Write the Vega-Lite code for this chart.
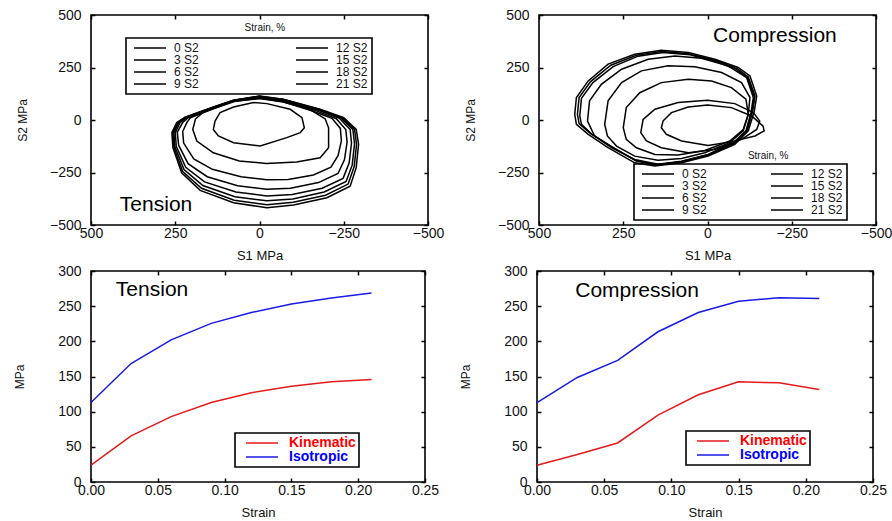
{
  "$schema": "https://vega.github.io/schema/vega-lite/v6.json",
  "padding": {"left": 12, "top": 7, "right": 5, "bottom": 5},
  "config": {
    "font": "Liberation Sans",
    "view": {"stroke": "black", "strokeWidth": 1.6},
    "axis": {"domain": false, "grid": false, "ticks": true, "tickSize": -4, "tickColor": "black", "tickWidth": 1.5, "labelFontSize": 14, "labelColor": "#111", "labelFlush": false, "labelOverlap": false, "titleFontSize": 13, "titleFontWeight": "normal", "titleColor": "#111"},
    "axisX": {"labelPadding": 5, "titlePadding": 9},
    "axisY": {"labelPadding": 14, "titlePadding": 22, "titleFontSize": 12},
    "legend": {"labelLimit": 300}
  },
  "datasets": {
    "tension": [
      {"s":"0 S2","i":0,"x":132,"y":-5},{"s":"0 S2","i":1,"x":117,"y":35},{"s":"0 S2","i":2,"x":77,"y":62},{"s":"0 S2","i":3,"x":18,"y":83},{"s":"0 S2","i":4,"x":-22,"y":78},{"s":"0 S2","i":5,"x":-91,"y":51},{"s":"0 S2","i":6,"x":-126,"y":11},{"s":"0 S2","i":7,"x":-133,"y":-37},{"s":"0 S2","i":8,"x":-121,"y":-60},{"s":"0 S2","i":9,"x":-81,"y":-84},{"s":"0 S2","i":10,"x":-2,"y":-124},{"s":"0 S2","i":11,"x":77,"y":-108},{"s":"0 S2","i":12,"x":122,"y":-76},{"s":"0 S2","i":13,"x":137,"y":-45},
      {"s":"3 S2","i":0,"x":190,"y":5},{"s":"3 S2","i":1,"x":165,"y":40},{"s":"3 S2","i":2,"x":130,"y":62},{"s":"3 S2","i":3,"x":75,"y":90},{"s":"3 S2","i":4,"x":0,"y":102},{"s":"3 S2","i":5,"x":-71,"y":86},{"s":"3 S2","i":6,"x":-150,"y":50},{"s":"3 S2","i":7,"x":-195,"y":5},{"s":"3 S2","i":8,"x":-205,"y":-37},{"s":"3 S2","i":9,"x":-205,"y":-132},{"s":"3 S2","i":10,"x":-180,"y":-180},{"s":"3 S2","i":11,"x":-110,"y":-200},{"s":"3 S2","i":12,"x":-20,"y":-207},{"s":"3 S2","i":13,"x":60,"y":-195},{"s":"3 S2","i":14,"x":137,"y":-156},{"s":"3 S2","i":15,"x":186,"y":-100},{"s":"3 S2","i":16,"x":198,"y":-45},
      {"s":"6 S2","i":0,"x":215,"y":-10},{"s":"6 S2","i":1,"x":205,"y":10},{"s":"6 S2","i":2,"x":135,"y":54},{"s":"6 S2","i":3,"x":75,"y":88},{"s":"6 S2","i":4,"x":0,"y":104},{"s":"6 S2","i":5,"x":-68,"y":88},{"s":"6 S2","i":6,"x":-155,"y":44},{"s":"6 S2","i":7,"x":-215,"y":8},{"s":"6 S2","i":8,"x":-240,"y":-40},{"s":"6 S2","i":9,"x":-243,"y":-100},{"s":"6 S2","i":10,"x":-233,"y":-170},{"s":"6 S2","i":11,"x":-212,"y":-225},{"s":"6 S2","i":12,"x":-160,"y":-262},{"s":"6 S2","i":13,"x":-85,"y":-283},{"s":"6 S2","i":14,"x":-22,"y":-285},{"s":"6 S2","i":15,"x":55,"y":-270},{"s":"6 S2","i":16,"x":140,"y":-235},{"s":"6 S2","i":17,"x":195,"y":-185},{"s":"6 S2","i":18,"x":225,"y":-110},{"s":"6 S2","i":19,"x":228,"y":-55},
      {"s":"9 S2","i":0,"x":228,"y":-12},{"s":"9 S2","i":1,"x":212,"y":10},{"s":"9 S2","i":2,"x":135,"y":56},{"s":"9 S2","i":3,"x":76,"y":90},{"s":"9 S2","i":4,"x":0,"y":107},{"s":"9 S2","i":5,"x":-69,"y":92},{"s":"9 S2","i":6,"x":-165,"y":46},{"s":"9 S2","i":7,"x":-228,"y":6},{"s":"9 S2","i":8,"x":-256,"y":-45},{"s":"9 S2","i":9,"x":-260,"y":-105},{"s":"9 S2","i":10,"x":-252,"y":-190},{"s":"9 S2","i":11,"x":-233,"y":-255},{"s":"9 S2","i":12,"x":-175,"y":-298},{"s":"9 S2","i":13,"x":-92,"y":-325},{"s":"9 S2","i":14,"x":-22,"y":-330},{"s":"9 S2","i":15,"x":65,"y":-313},{"s":"9 S2","i":16,"x":155,"y":-270},{"s":"9 S2","i":17,"x":212,"y":-208},{"s":"9 S2","i":18,"x":240,"y":-120},{"s":"9 S2","i":19,"x":244,"y":-58},
      {"s":"12 S2","i":0,"x":236,"y":-13},{"s":"12 S2","i":1,"x":215,"y":12},{"s":"12 S2","i":2,"x":136,"y":58},{"s":"12 S2","i":3,"x":77,"y":92},{"s":"12 S2","i":4,"x":0,"y":110},{"s":"12 S2","i":5,"x":-70,"y":95},{"s":"12 S2","i":6,"x":-172,"y":48},{"s":"12 S2","i":7,"x":-237,"y":8},{"s":"12 S2","i":8,"x":-269,"y":-45},{"s":"12 S2","i":9,"x":-273,"y":-110},{"s":"12 S2","i":10,"x":-266,"y":-205},{"s":"12 S2","i":11,"x":-248,"y":-278},{"s":"12 S2","i":12,"x":-186,"y":-325},{"s":"12 S2","i":13,"x":-97,"y":-355},{"s":"12 S2","i":14,"x":-22,"y":-362},{"s":"12 S2","i":15,"x":70,"y":-343},{"s":"12 S2","i":16,"x":163,"y":-295},{"s":"12 S2","i":17,"x":219,"y":-225},{"s":"12 S2","i":18,"x":247,"y":-125},{"s":"12 S2","i":19,"x":250,"y":-60},
      {"s":"15 S2","i":0,"x":240,"y":-13},{"s":"15 S2","i":1,"x":217,"y":13},{"s":"15 S2","i":2,"x":137,"y":60},{"s":"15 S2","i":3,"x":77,"y":93},{"s":"15 S2","i":4,"x":0,"y":112},{"s":"15 S2","i":5,"x":-71,"y":97},{"s":"15 S2","i":6,"x":-176,"y":49},{"s":"15 S2","i":7,"x":-242,"y":9},{"s":"15 S2","i":8,"x":-277,"y":-45},{"s":"15 S2","i":9,"x":-282,"y":-113},{"s":"15 S2","i":10,"x":-275,"y":-215},{"s":"15 S2","i":11,"x":-257,"y":-293},{"s":"15 S2","i":12,"x":-192,"y":-343},{"s":"15 S2","i":13,"x":-99,"y":-376},{"s":"15 S2","i":14,"x":-22,"y":-385},{"s":"15 S2","i":15,"x":73,"y":-365},{"s":"15 S2","i":16,"x":168,"y":-312},{"s":"15 S2","i":17,"x":224,"y":-236},{"s":"15 S2","i":18,"x":251,"y":-128},{"s":"15 S2","i":19,"x":254,"y":-60},
      {"s":"18 S2","i":0,"x":243,"y":-13},{"s":"18 S2","i":1,"x":219,"y":14},{"s":"18 S2","i":2,"x":137,"y":61},{"s":"18 S2","i":3,"x":77,"y":94},{"s":"18 S2","i":4,"x":0,"y":113},{"s":"18 S2","i":5,"x":-71,"y":98},{"s":"18 S2","i":6,"x":-178,"y":50},{"s":"18 S2","i":7,"x":-246,"y":10},{"s":"18 S2","i":8,"x":-282,"y":-45},{"s":"18 S2","i":9,"x":-288,"y":-115},{"s":"18 S2","i":10,"x":-281,"y":-222},{"s":"18 S2","i":11,"x":-263,"y":-305},{"s":"18 S2","i":12,"x":-196,"y":-358},{"s":"18 S2","i":13,"x":-100,"y":-392},{"s":"18 S2","i":14,"x":-22,"y":-403},{"s":"18 S2","i":15,"x":75,"y":-382},{"s":"18 S2","i":16,"x":172,"y":-325},{"s":"18 S2","i":17,"x":228,"y":-245},{"s":"18 S2","i":18,"x":254,"y":-130},{"s":"18 S2","i":19,"x":257,"y":-60},
      {"s":"21 S2","i":0,"x":246,"y":-13},{"s":"21 S2","i":1,"x":221,"y":14},{"s":"21 S2","i":2,"x":137,"y":62},{"s":"21 S2","i":3,"x":77,"y":94},{"s":"21 S2","i":4,"x":0,"y":114},{"s":"21 S2","i":5,"x":-71,"y":99},{"s":"21 S2","i":6,"x":-180,"y":51},{"s":"21 S2","i":7,"x":-250,"y":11},{"s":"21 S2","i":8,"x":-287,"y":-45},{"s":"21 S2","i":9,"x":-294,"y":-116},{"s":"21 S2","i":10,"x":-287,"y":-227},{"s":"21 S2","i":11,"x":-269,"y":-315},{"s":"21 S2","i":12,"x":-200,"y":-370},{"s":"21 S2","i":13,"x":-101,"y":-405},{"s":"21 S2","i":14,"x":-22,"y":-418},{"s":"21 S2","i":15,"x":77,"y":-394},{"s":"21 S2","i":16,"x":176,"y":-335},{"s":"21 S2","i":17,"x":231,"y":-251},{"s":"21 S2","i":18,"x":257,"y":-132},{"s":"21 S2","i":19,"x":260,"y":-60}
    ],
    "compression": [
      {"s":"0 S2","i":0,"x":132,"y":-5},{"s":"0 S2","i":1,"x":107,"y":35},{"s":"0 S2","i":2,"x":57,"y":62},{"s":"0 S2","i":3,"x":0,"y":72},{"s":"0 S2","i":4,"x":-71,"y":59},{"s":"0 S2","i":5,"x":-131,"y":19},{"s":"0 S2","i":6,"x":-165,"y":-29},{"s":"0 S2","i":7,"x":-168,"y":-52},{"s":"0 S2","i":8,"x":-141,"y":-76},{"s":"0 S2","i":9,"x":-71,"y":-103},{"s":"0 S2","i":10,"x":-2,"y":-121},{"s":"0 S2","i":11,"x":77,"y":-100},{"s":"0 S2","i":12,"x":122,"y":-68},{"s":"0 S2","i":13,"x":137,"y":-37},
      {"s":"3 S2","i":0,"x":198,"y":-60},{"s":"3 S2","i":1,"x":191,"y":3},{"s":"3 S2","i":2,"x":156,"y":51},{"s":"3 S2","i":3,"x":87,"y":83},{"s":"3 S2","i":4,"x":0,"y":94},{"s":"3 S2","i":5,"x":-81,"y":78},{"s":"3 S2","i":6,"x":-136,"y":35},{"s":"3 S2","i":7,"x":-155,"y":-5},{"s":"3 S2","i":8,"x":-146,"y":-45},{"s":"3 S2","i":9,"x":-101,"y":-92},{"s":"3 S2","i":10,"x":-22,"y":-140},{"s":"3 S2","i":11,"x":57,"y":-156},{"s":"3 S2","i":12,"x":137,"y":-132},{"s":"3 S2","i":13,"x":181,"y":-100},
      {"s":"6 S2","i":0,"x":250,"y":-37},{"s":"6 S2","i":1,"x":241,"y":59},{"s":"6 S2","i":2,"x":201,"y":130},{"s":"6 S2","i":3,"x":137,"y":178},{"s":"6 S2","i":4,"x":57,"y":194},{"s":"6 S2","i":5,"x":-12,"y":186},{"s":"6 S2","i":6,"x":-71,"y":154},{"s":"6 S2","i":7,"x":-114,"y":99},{"s":"6 S2","i":8,"x":-121,"y":27},{"s":"6 S2","i":9,"x":-106,"y":-45},{"s":"6 S2","i":10,"x":-66,"y":-100},{"s":"6 S2","i":11,"x":8,"y":-145},{"s":"6 S2","i":12,"x":87,"y":-167},{"s":"6 S2","i":13,"x":156,"y":-164},{"s":"6 S2","i":14,"x":211,"y":-132},{"s":"6 S2","i":15,"x":241,"y":-92},
      {"s":"9 S2","i":0,"x":305,"y":-21},{"s":"9 S2","i":1,"x":295,"y":91},{"s":"9 S2","i":2,"x":255,"y":178},{"s":"9 S2","i":3,"x":196,"y":234},{"s":"9 S2","i":4,"x":117,"y":258},{"s":"9 S2","i":5,"x":38,"y":253},{"s":"9 S2","i":6,"x":-42,"y":226},{"s":"9 S2","i":7,"x":-101,"y":178},{"s":"9 S2","i":8,"x":-126,"y":107},{"s":"9 S2","i":9,"x":-121,"y":27},{"s":"9 S2","i":10,"x":-106,"y":-52},{"s":"9 S2","i":11,"x":-66,"y":-108},{"s":"9 S2","i":12,"x":8,"y":-156},{"s":"9 S2","i":13,"x":77,"y":-183},{"s":"9 S2","i":14,"x":147,"y":-192},{"s":"9 S2","i":15,"x":216,"y":-172},{"s":"9 S2","i":16,"x":270,"y":-124},{"s":"9 S2","i":17,"x":297,"y":-76},
      {"s":"12 S2","i":0,"x":356,"y":-5},{"s":"12 S2","i":1,"x":350,"y":91},{"s":"12 S2","i":2,"x":315,"y":170},{"s":"12 S2","i":3,"x":255,"y":242},{"s":"12 S2","i":4,"x":176,"y":289},{"s":"12 S2","i":5,"x":97,"y":305},{"s":"12 S2","i":6,"x":18,"y":294},{"s":"12 S2","i":7,"x":-61,"y":258},{"s":"12 S2","i":8,"x":-116,"y":202},{"s":"12 S2","i":9,"x":-136,"y":107},{"s":"12 S2","i":10,"x":-129,"y":35},{"s":"12 S2","i":11,"x":-114,"y":-52},{"s":"12 S2","i":12,"x":-76,"y":-108},{"s":"12 S2","i":13,"x":-2,"y":-164},{"s":"12 S2","i":14,"x":77,"y":-196},{"s":"12 S2","i":15,"x":147,"y":-211},{"s":"12 S2","i":16,"x":216,"y":-188},{"s":"12 S2","i":17,"x":285,"y":-132},{"s":"12 S2","i":18,"x":335,"y":-76},
      {"s":"15 S2","i":0,"x":379,"y":19},{"s":"15 S2","i":1,"x":374,"y":103},{"s":"15 S2","i":2,"x":340,"y":178},{"s":"15 S2","i":3,"x":280,"y":254},{"s":"15 S2","i":4,"x":206,"y":304},{"s":"15 S2","i":5,"x":132,"y":321},{"s":"15 S2","i":6,"x":52,"y":311},{"s":"15 S2","i":7,"x":-22,"y":280},{"s":"15 S2","i":8,"x":-87,"y":240},{"s":"15 S2","i":9,"x":-119,"y":199},{"s":"15 S2","i":10,"x":-139,"y":110},{"s":"15 S2","i":11,"x":-132,"y":40},{"s":"15 S2","i":12,"x":-116,"y":-51},{"s":"15 S2","i":13,"x":-78,"y":-111},{"s":"15 S2","i":14,"x":-2,"y":-165},{"s":"15 S2","i":15,"x":77,"y":-197},{"s":"15 S2","i":16,"x":150,"y":-213},{"s":"15 S2","i":17,"x":213,"y":-193},{"s":"15 S2","i":18,"x":285,"y":-127},{"s":"15 S2","i":19,"x":343,"y":-68},{"s":"15 S2","i":20,"x":374,"y":-21},
      {"s":"18 S2","i":0,"x":386,"y":27},{"s":"18 S2","i":1,"x":381,"y":107},{"s":"18 S2","i":2,"x":347,"y":183},{"s":"18 S2","i":3,"x":287,"y":261},{"s":"18 S2","i":4,"x":211,"y":308},{"s":"18 S2","i":5,"x":137,"y":326},{"s":"18 S2","i":6,"x":57,"y":316},{"s":"18 S2","i":7,"x":-22,"y":285},{"s":"18 S2","i":8,"x":-89,"y":245},{"s":"18 S2","i":9,"x":-121,"y":205},{"s":"18 S2","i":10,"x":-141,"y":114},{"s":"18 S2","i":11,"x":-134,"y":43},{"s":"18 S2","i":12,"x":-118,"y":-49},{"s":"18 S2","i":13,"x":-79,"y":-113},{"s":"18 S2","i":14,"x":-2,"y":-167},{"s":"18 S2","i":15,"x":77,"y":-199},{"s":"18 S2","i":16,"x":151,"y":-215},{"s":"18 S2","i":17,"x":211,"y":-196},{"s":"18 S2","i":18,"x":287,"y":-124},{"s":"18 S2","i":19,"x":347,"y":-65},{"s":"18 S2","i":20,"x":381,"y":-17},
      {"s":"21 S2","i":0,"x":394,"y":27},{"s":"21 S2","i":1,"x":389,"y":107},{"s":"21 S2","i":2,"x":354,"y":186},{"s":"21 S2","i":3,"x":295,"y":266},{"s":"21 S2","i":4,"x":216,"y":313},{"s":"21 S2","i":5,"x":137,"y":332},{"s":"21 S2","i":6,"x":57,"y":321},{"s":"21 S2","i":7,"x":-22,"y":289},{"s":"21 S2","i":8,"x":-91,"y":250},{"s":"21 S2","i":9,"x":-126,"y":210},{"s":"21 S2","i":10,"x":-146,"y":114},{"s":"21 S2","i":11,"x":-139,"y":43},{"s":"21 S2","i":12,"x":-121,"y":-52},{"s":"21 S2","i":13,"x":-81,"y":-116},{"s":"21 S2","i":14,"x":-2,"y":-172},{"s":"21 S2","i":15,"x":77,"y":-204},{"s":"21 S2","i":16,"x":156,"y":-219},{"s":"21 S2","i":17,"x":216,"y":-204},{"s":"21 S2","i":18,"x":295,"y":-132},{"s":"21 S2","i":19,"x":354,"y":-68},{"s":"21 S2","i":20,"x":389,"y":-21}
    ],
    "curves": [
      {"mode":"Tension","model":"Isotropic","strain":0,"mpa":113},{"mode":"Tension","model":"Isotropic","strain":0.03,"mpa":168.5},{"mode":"Tension","model":"Isotropic","strain":0.06,"mpa":202},{"mode":"Tension","model":"Isotropic","strain":0.09,"mpa":225.5},{"mode":"Tension","model":"Isotropic","strain":0.12,"mpa":241},{"mode":"Tension","model":"Isotropic","strain":0.15,"mpa":253},{"mode":"Tension","model":"Isotropic","strain":0.18,"mpa":261.5},{"mode":"Tension","model":"Isotropic","strain":0.21,"mpa":268.6},
      {"mode":"Tension","model":"Kinematic","strain":0,"mpa":24},{"mode":"Tension","model":"Kinematic","strain":0.03,"mpa":65.5},{"mode":"Tension","model":"Kinematic","strain":0.06,"mpa":93},{"mode":"Tension","model":"Kinematic","strain":0.09,"mpa":113},{"mode":"Tension","model":"Kinematic","strain":0.12,"mpa":127},{"mode":"Tension","model":"Kinematic","strain":0.15,"mpa":136},{"mode":"Tension","model":"Kinematic","strain":0.18,"mpa":142.4},{"mode":"Tension","model":"Kinematic","strain":0.21,"mpa":145.7},
      {"mode":"Compression","model":"Isotropic","strain":0,"mpa":113},{"mode":"Compression","model":"Isotropic","strain":0.03,"mpa":148.6},{"mode":"Compression","model":"Isotropic","strain":0.06,"mpa":173},{"mode":"Compression","model":"Isotropic","strain":0.09,"mpa":213.6},{"mode":"Compression","model":"Isotropic","strain":0.12,"mpa":241},{"mode":"Compression","model":"Isotropic","strain":0.15,"mpa":257},{"mode":"Compression","model":"Isotropic","strain":0.18,"mpa":262},{"mode":"Compression","model":"Isotropic","strain":0.21,"mpa":261},
      {"mode":"Compression","model":"Kinematic","strain":0,"mpa":23.7},{"mode":"Compression","model":"Kinematic","strain":0.03,"mpa":39},{"mode":"Compression","model":"Kinematic","strain":0.06,"mpa":55.5},{"mode":"Compression","model":"Kinematic","strain":0.09,"mpa":95},{"mode":"Compression","model":"Kinematic","strain":0.12,"mpa":124},{"mode":"Compression","model":"Kinematic","strain":0.15,"mpa":142.4},{"mode":"Compression","model":"Kinematic","strain":0.18,"mpa":141},{"mode":"Compression","model":"Kinematic","strain":0.21,"mpa":131.5}
    ]
  },
  "spacing": 0,
  "resolve": {"scale": {"color": "independent"}, "legend": {"color": "independent"}},
  "vconcat": [
    {
      "spacing": 18,
      "resolve": {"scale": {"color": "independent"}, "legend": {"color": "independent"}},
      "hconcat": [
        {
          "width": 337, "height": 210,
          "resolve": {"axis": {"x": "independent", "y": "independent"}},
          "layer": [
            {
              "data": {"name": "tension"},
              "mark": {"type": "line", "interpolate": "linear-closed", "strokeWidth": 1.5},
              "encoding": {
                "x": {"field": "x", "type": "quantitative", "scale": {"domain": [-500, 500], "reverse": true, "nice": false, "zero": false}, "axis": {"values": [-500, -250, 0, 250, 500], "title": "S1 MPa", "orient": "bottom"}},
                "y": {"field": "y", "type": "quantitative", "scale": {"domain": [-500, 500], "nice": false, "zero": false}, "axis": {"values": [-500, -250, 0, 250, 500], "title": "S2 MPa", "orient": "left", "minExtent": 40, "maxExtent": 40}},
                "color": {"field": "s", "type": "nominal", "scale": {"domain": ["0 S2", "3 S2", "6 S2", "9 S2", "12 S2", "15 S2", "18 S2", "21 S2"], "range": ["#000", "#000", "#000", "#000", "#000", "#000", "#000", "#000"]},
                  "legend": {"orient": "none", "legendX": 35, "legendY": 23, "title": null, "columns": 2, "columnPadding": 93, "rowPadding": 0, "symbolType": "M-0.4,0H6", "symbolSize": 100, "symbolStrokeWidth": 1.5, "labelFontSize": 12, "labelColor": "#111", "labelOffset": 32, "padding": 4, "strokeColor": "black", "encode": {"legend": {"update": {"strokeWidth": {"value": 1.6}}}}}},
                "order": {"field": "i", "type": "quantitative"}
              }
            },
            {
              "data": {"values": [{"x": 307, "y": -405, "t": "Tension"}]},
              "mark": {"type": "text", "fontSize": 21, "align": "center", "baseline": "middle", "color": "black"},
              "encoding": {
                "x": {"field": "x", "type": "quantitative", "scale": {"domain": [-500, 500], "reverse": true, "nice": false, "zero": false}, "axis": {"orient": "top", "labels": false, "title": null, "values": [-500, -250, 0, 250, 500], "minExtent": 0, "maxExtent": 0}},
                "y": {"field": "y", "type": "quantitative", "scale": {"domain": [-500, 500], "nice": false, "zero": false}, "axis": {"orient": "right", "labels": false, "title": null, "values": [-500, -250, 0, 250, 500], "minExtent": 0, "maxExtent": 0}},
                "text": {"field": "t"}
              }
            },
            {
              "data": {"values": [{"x": -16, "y": 438, "t": "Strain, %"}]},
              "mark": {"type": "text", "fontSize": 10, "align": "center", "baseline": "middle", "color": "#111"},
              "encoding": {
                "x": {"field": "x", "type": "quantitative", "scale": {"domain": [-500, 500], "reverse": true, "nice": false, "zero": false}, "axis": null},
                "y": {"field": "y", "type": "quantitative", "scale": {"domain": [-500, 500], "nice": false, "zero": false}, "axis": null},
                "text": {"field": "t"}
              }
            }
          ]
        },
        {
          "width": 337, "height": 210,
          "resolve": {"axis": {"x": "independent", "y": "independent"}},
          "layer": [
            {
              "data": {"name": "compression"},
              "mark": {"type": "line", "interpolate": "linear-closed", "strokeWidth": 1.5},
              "encoding": {
                "x": {"field": "x", "type": "quantitative", "scale": {"domain": [-500, 500], "reverse": true, "nice": false, "zero": false}, "axis": {"values": [-500, -250, 0, 250, 500], "title": "S1 MPa", "orient": "bottom"}},
                "y": {"field": "y", "type": "quantitative", "scale": {"domain": [-500, 500], "nice": false, "zero": false}, "axis": {"values": [-500, -250, 0, 250, 500], "title": "S2 MPa", "orient": "left", "minExtent": 40, "maxExtent": 40}},
                "color": {"field": "s", "type": "nominal", "scale": {"domain": ["0 S2", "3 S2", "6 S2", "9 S2", "12 S2", "15 S2", "18 S2", "21 S2"], "range": ["#000", "#000", "#000", "#000", "#000", "#000", "#000", "#000"]},
                  "legend": {"orient": "none", "legendX": 95, "legendY": 149, "title": null, "columns": 2, "columnPadding": 60, "rowPadding": 0, "symbolType": "M-0.4,0H6", "symbolSize": 100, "symbolStrokeWidth": 1.5, "labelFontSize": 12, "labelColor": "#111", "labelOffset": 32, "padding": 4, "strokeColor": "black", "encode": {"legend": {"update": {"strokeWidth": {"value": 1.6}}}}}},
                "order": {"field": "i", "type": "quantitative"}
              }
            },
            {
              "data": {"values": [{"x": -200, "y": 400, "t": "Compression"}]},
              "mark": {"type": "text", "fontSize": 21, "align": "center", "baseline": "middle", "color": "black"},
              "encoding": {
                "x": {"field": "x", "type": "quantitative", "scale": {"domain": [-500, 500], "reverse": true, "nice": false, "zero": false}, "axis": {"orient": "top", "labels": false, "title": null, "values": [-500, -250, 0, 250, 500], "minExtent": 0, "maxExtent": 0}},
                "y": {"field": "y", "type": "quantitative", "scale": {"domain": [-500, 500], "nice": false, "zero": false}, "axis": {"orient": "right", "labels": false, "title": null, "values": [-500, -250, 0, 250, 500], "minExtent": 0, "maxExtent": 0}},
                "text": {"field": "t"}
              }
            },
            {
              "data": {"values": [{"x": -180, "y": -171, "t": "Strain, %"}]},
              "mark": {"type": "text", "fontSize": 10, "align": "center", "baseline": "middle", "color": "#111"},
              "encoding": {
                "x": {"field": "x", "type": "quantitative", "scale": {"domain": [-500, 500], "reverse": true, "nice": false, "zero": false}, "axis": null},
                "y": {"field": "y", "type": "quantitative", "scale": {"domain": [-500, 500], "nice": false, "zero": false}, "axis": null},
                "text": {"field": "t"}
              }
            }
          ]
        }
      ]
    },
    {
      "spacing": 18,
      "resolve": {"scale": {"color": "independent"}, "legend": {"color": "independent"}},
      "hconcat": [
        {
          "width": 334, "height": 211,
          "resolve": {"axis": {"x": "independent", "y": "independent"}},
          "layer": [
            {
              "data": {"name": "curves"},
              "transform": [{"filter": "datum.mode === 'Tension'"}],
              "mark": {"type": "line", "strokeWidth": 1.5},
              "encoding": {
                "x": {"field": "strain", "type": "quantitative", "scale": {"domain": [0, 0.25], "nice": false}, "axis": {"values": [0, 0.05, 0.1, 0.15, 0.2, 0.25], "format": ".2f", "title": "Strain", "orient": "bottom"}},
                "y": {"field": "mpa", "type": "quantitative", "scale": {"domain": [0, 300], "nice": false}, "axis": {"values": [0, 50, 100, 150, 200, 250, 300], "title": "MPa", "orient": "left", "minExtent": 43, "maxExtent": 43}},
                "color": {"field": "model", "type": "nominal", "scale": {"domain": ["Kinematic", "Isotropic"], "range": ["#e41a1c", "#1a1ae6"]},
                  "legend": {"orient": "none", "legendX": 144, "legendY": 162, "title": null, "rowPadding": 0, "symbolType": "M0.2,0H6.6", "symbolSize": 100, "symbolStrokeWidth": 1.5, "labelFontSize": 14, "labelFontWeight": "bold", "labelOffset": 37, "padding": 3, "strokeColor": "black",
                    "encode": {"legend": {"update": {"strokeWidth": {"value": 1.6}}}, "labels": {"update": {"fill": {"signal": "datum.value === 'Kinematic' ? '#ff0000' : '#0000ff'"}}}}}}
              }
            },
            {
              "data": {"values": [{"strain": 0.0457, "mpa": 273, "t": "Tension"}]},
              "mark": {"type": "text", "fontSize": 21, "align": "center", "baseline": "middle", "color": "black"},
              "encoding": {
                "x": {"field": "strain", "type": "quantitative", "scale": {"domain": [0, 0.25], "nice": false}, "axis": {"orient": "top", "labels": false, "title": null, "values": [0, 0.05, 0.1, 0.15, 0.2, 0.25], "minExtent": 0, "maxExtent": 0}},
                "y": {"field": "mpa", "type": "quantitative", "scale": {"domain": [0, 300], "nice": false}, "axis": {"orient": "right", "labels": false, "title": null, "values": [0, 50, 100, 150, 200, 250, 300], "minExtent": 0, "maxExtent": 0}},
                "text": {"field": "t"}
              }
            }
          ]
        },
        {
          "width": 336, "height": 211,
          "resolve": {"axis": {"x": "independent", "y": "independent"}},
          "layer": [
            {
              "data": {"name": "curves"},
              "transform": [{"filter": "datum.mode === 'Compression'"}],
              "mark": {"type": "line", "strokeWidth": 1.5},
              "encoding": {
                "x": {"field": "strain", "type": "quantitative", "scale": {"domain": [0, 0.25], "nice": false}, "axis": {"values": [0, 0.05, 0.1, 0.15, 0.2, 0.25], "format": ".2f", "title": "Strain", "orient": "bottom"}},
                "y": {"field": "mpa", "type": "quantitative", "scale": {"domain": [0, 300], "nice": false}, "axis": {"values": [0, 50, 100, 150, 200, 250, 300], "title": "MPa", "orient": "left", "minExtent": 43, "maxExtent": 43}},
                "color": {"field": "model", "type": "nominal", "scale": {"domain": ["Kinematic", "Isotropic"], "range": ["#e41a1c", "#1a1ae6"]},
                  "legend": {"orient": "none", "legendX": 149, "legendY": 160, "title": null, "rowPadding": 0, "symbolType": "M0.2,0H6.6", "symbolSize": 100, "symbolStrokeWidth": 1.5, "labelFontSize": 14, "labelFontWeight": "bold", "labelOffset": 37, "padding": 3, "strokeColor": "black",
                    "encode": {"legend": {"update": {"strokeWidth": {"value": 1.6}}}, "labels": {"update": {"fill": {"signal": "datum.value === 'Kinematic' ? '#ff0000' : '#0000ff'"}}}}}}
              }
            },
            {
              "data": {"values": [{"strain": 0.0745, "mpa": 272, "t": "Compression"}]},
              "mark": {"type": "text", "fontSize": 21, "align": "center", "baseline": "middle", "color": "black"},
              "encoding": {
                "x": {"field": "strain", "type": "quantitative", "scale": {"domain": [0, 0.25], "nice": false}, "axis": {"orient": "top", "labels": false, "title": null, "values": [0, 0.05, 0.1, 0.15, 0.2, 0.25], "minExtent": 0, "maxExtent": 0}},
                "y": {"field": "mpa", "type": "quantitative", "scale": {"domain": [0, 300], "nice": false}, "axis": {"orient": "right", "labels": false, "title": null, "values": [0, 50, 100, 150, 200, 250, 300], "minExtent": 0, "maxExtent": 0}},
                "text": {"field": "t"}
              }
            }
          ]
        }
      ]
    }
  ]
}
